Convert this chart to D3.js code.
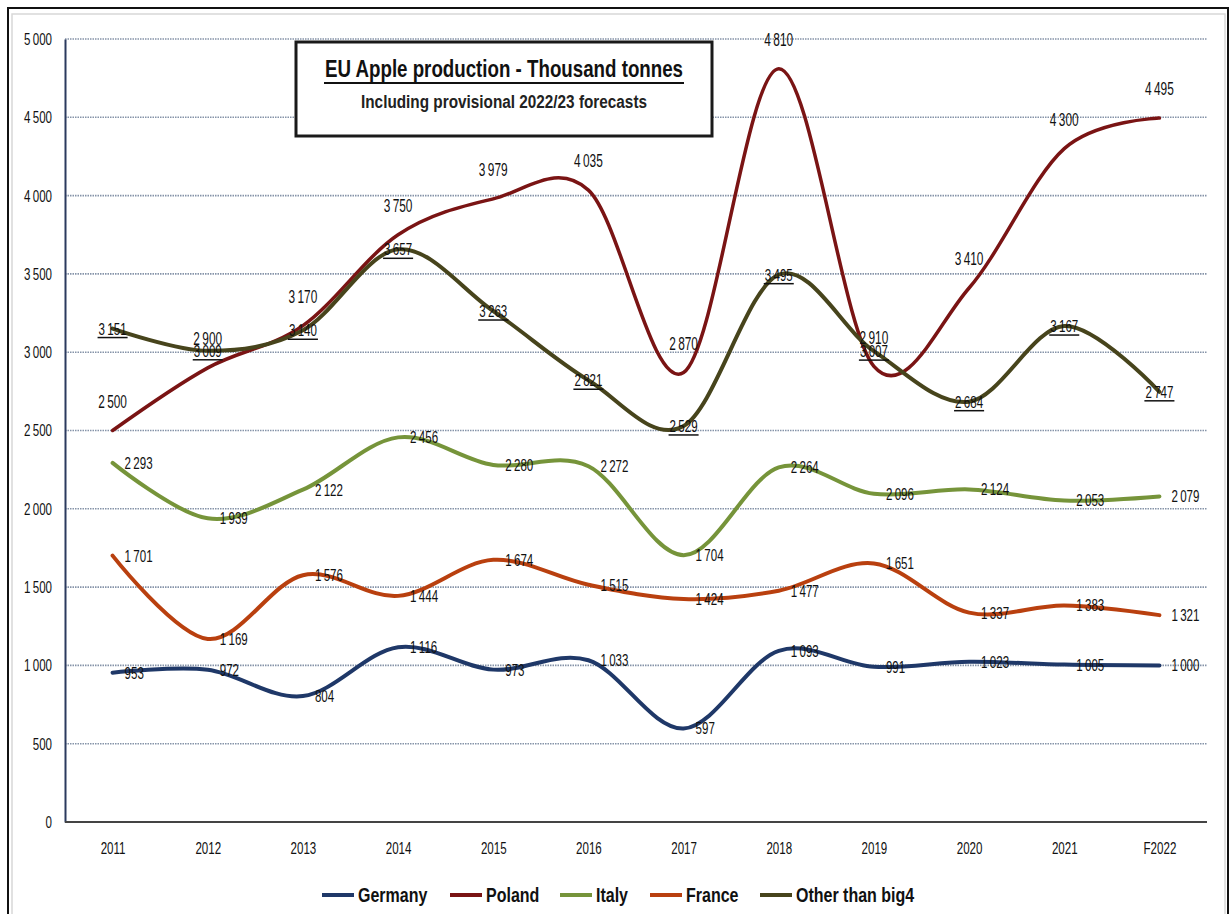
<!DOCTYPE html>
<html><head><meta charset="utf-8">
<script src="https://cdn.jsdelivr.net/npm/d3@7"></script>
<style>
html,body{margin:0;padding:0;background:#fff;}
svg{display:block;}
text{font-family:"Liberation Sans","Arial",sans-serif;}
</style></head>
<body>
<svg id="c" width="1230" height="914"></svg>
<script>
const years = ["2011","2012","2013","2014","2015","2016","2017","2018","2019","2020","2021","F2022"];
const germany = [953, 972, 804, 1116, 973, 1033, 597, 1093, 991, 1023, 1005, 1000];
const poland  = [2500, 2900, 3170, 3750, 3979, 4035, 2870, 4810, 2910, 3410, 4300, 4495];
const italy   = [2293, 1939, 2122, 2456, 2280, 2272, 1704, 2264, 2096, 2124, 2053, 2079];
const france  = [1701, 1169, 1576, 1444, 1674, 1515, 1424, 1477, 1651, 1337, 1383, 1321];
const other   = [3151, 3009, 3140, 3657, 3263, 2821, 2529, 3495, 3007, 2684, 3167, 2747];
const yTicks  = [0, 500, 1000, 1500, 2000, 2500, 3000, 3500, 4000, 4500, 5000];
const seriesNames = ["Germany","Poland","Italy","France","Other than big4"];
const title = "EU Apple production - Thousand tonnes";
const subtitle = "Including provisional 2022/23 forecasts";

const fmt = v => { const s = String(v); return s.length > 3 ? s.slice(0, s.length-3) + "\u2009" + s.slice(-3) : s; };
// condense text horizontally (reference uses a narrow font)
function squeeze(sel, f) {
  sel.each(function() {
    const L = this.getComputedTextLength();
    d3.select(this).attr("textLength", L * f).attr("lengthAdjust", "spacingAndGlyphs");
  });
}

const svg = d3.select("#c");
svg.append("rect").attr("x",8).attr("y",8).attr("width",1220).attr("height",920)
  .attr("fill","#fff").attr("stroke","#111").attr("stroke-width",2);
svg.append("rect").attr("x",12).attr("y",14).attr("width",1213).attr("height",920)
  .attr("fill","none").attr("stroke","#d8d8d8").attr("stroke-width",1.5);

const pLeft = 65, pRight = 1207, pTop = 39, pBottom = 822;
const x = d3.scalePoint().domain(years).range([pLeft, pRight]).padding(0.5);
const y = d3.scaleLinear().domain([0, 5000]).range([pBottom, pTop]);

svg.append("g").selectAll("line").data(yTicks.filter(d => d > 0)).join("line")
  .attr("x1", pLeft).attr("x2", pRight)
  .attr("y1", d => y(d)).attr("y2", d => y(d))
  .attr("stroke", "#8593a8").attr("stroke-width", 1.6).attr("stroke-dasharray", "1.5,1");

const yAxis = d3.axisLeft(y).tickValues(yTicks).tickFormat(fmt).tickSize(0).tickPadding(13);
const gy = svg.append("g").attr("transform", `translate(${pLeft},0)`).call(yAxis);
gy.select(".domain").attr("stroke", "#2b3a5e").attr("stroke-width", 2);
gy.selectAll("text").attr("font-size", 17).attr("fill", "#111").style("font-family", null);
squeeze(gy.selectAll("text"), 0.68);

const xAxis = d3.axisBottom(x).tickSize(0).tickPadding(20);
const gx = svg.append("g").attr("transform", `translate(0,${pBottom})`).call(xAxis);
gx.select(".domain").attr("stroke", "#444").attr("stroke-width", 2).attr("d", `M${pLeft},0H${pRight}`);
gx.selectAll("text").attr("font-size", 17).attr("fill", "#111").style("font-family", null);
squeeze(gx.selectAll("text"), 0.68);

const series = [
  {name: seriesNames[0], vals: germany, color: "#1f3868", w: 4},
  {name: seriesNames[1], vals: poland,  color: "#7a1414", w: 3.5},
  {name: seriesNames[2], vals: italy,   color: "#76943a", w: 4},
  {name: seriesNames[3], vals: france,  color: "#b9400f", w: 4},
  {name: seriesNames[4], vals: other,   color: "#47441c", w: 4}
];

const line = d3.line().x((d,i) => x(years[i])).y(d => y(d)).curve(d3.curveCardinal.tension(0));

series.forEach(s => {
  svg.append("path").datum(s.vals).attr("d", line)
    .attr("fill", "none").attr("stroke", s.color).attr("stroke-width", s.w)
    .attr("stroke-linecap", "round").attr("stroke-linejoin", "round");
});

const lg = svg.append("g");
[germany, italy, france].forEach(vals => {
  const g = lg.append("g");
  g.selectAll("text").data(vals).join("text")
    .attr("x", (d,i) => x(years[i]) + 12).attr("y", d => y(d)).attr("dy", "0.35em")
    .attr("font-size", 17).attr("fill", "#111").text(fmt);
  squeeze(g.selectAll("text"), 0.68);
});
const pg = lg.append("g");
pg.selectAll("text").data(poland).join("text")
  .attr("x", (d,i) => x(years[i])).attr("y", d => y(d) - 29).attr("dy", "0.35em")
  .attr("text-anchor", "middle").attr("font-size", 18).attr("fill", "#111").text(fmt);
squeeze(pg.selectAll("text"), 0.66);
const og = lg.append("g");
other.forEach((v,i) => {
  const t = og.append("text").attr("x", x(years[i])).attr("y", y(v)).attr("dy","0.35em")
    .attr("text-anchor","middle").attr("font-size",17).attr("fill","#111").text(fmt(v));
  squeeze(t, 0.68);
  const w = +t.attr("textLength");
  og.append("line").attr("x1", x(years[i]) - w/2 - 1).attr("x2", x(years[i]) + w/2 + 1)
    .attr("y1", y(v) + 9).attr("y2", y(v) + 9).attr("stroke","#111").attr("stroke-width",1.5);
});

// title box
svg.append("rect").attr("x",296).attr("y",42).attr("width",416).attr("height",94)
  .attr("fill","#fff").attr("stroke","#1a1a1a").attr("stroke-width",3);
svg.append("text").attr("x",504).attr("y",77).attr("text-anchor","middle")
  .attr("font-size",24).attr("font-weight","bold").attr("fill","#111")
  .attr("textLength",358).attr("lengthAdjust","spacingAndGlyphs").text(title);
svg.append("line").attr("x1",504 - 180).attr("x2",504 + 180).attr("y1",83).attr("y2",83)
  .attr("stroke","#111").attr("stroke-width",2);
svg.append("text").attr("x",504).attr("y",108).attr("text-anchor","middle")
  .attr("font-size",18).attr("font-weight","bold").attr("fill","#222")
  .attr("textLength",286).attr("lengthAdjust","spacingAndGlyphs").text(subtitle);

const legX = [322, 450, 560, 650, 760];
const leg = svg.append("g");
series.forEach((s,i) => {
  leg.append("line").attr("x1", legX[i]).attr("x2", legX[i] + 32).attr("y1", 895).attr("y2", 895)
    .attr("stroke", s.color).attr("stroke-width", 4);
  const t = leg.append("text").attr("x", legX[i] + 36).attr("y", 895).attr("dy","0.35em")
    .attr("font-size", 20).attr("font-weight","bold").attr("fill","#111").text(s.name);
  squeeze(t, 0.8);
});
</script>
</body></html>
